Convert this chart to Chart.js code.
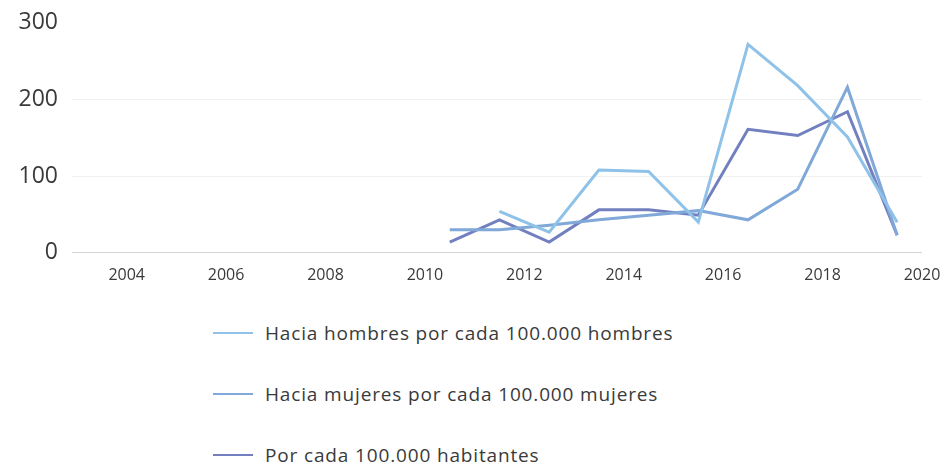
<!DOCTYPE html>
<html>
<head>
<meta charset="utf-8">
<script src="https://cdn.jsdelivr.net/npm/chart.js@4"></script>
<style>
  body { margin: 0; background: #fff; font-family: "Open Sans", sans-serif; }
  #wrap { position: relative; width: 951px; height: 466px; overflow: hidden; }
  #box { position: absolute; left: 0; top: -5px; width: 951px; height: 295px; }
  #legend { position: absolute; left: 213px; top: 320px; margin: 0; padding: 0; list-style: none; }
  #legend li { display: flex; align-items: center; height: 26px; margin-bottom: 35px; font-size: 19px; letter-spacing: 0.85px; color: #3a3a3a; white-space: nowrap; }
  #legend li span { display: inline-block; width: 40px; height: 2px; margin-right: 12px; }
</style>
</head>
<body>
<div id="wrap">
  <div id="box"><canvas id="chart"></canvas></div>
  <ul id="legend"></ul>
</div>
<script>
// points sit in the middle of each year
const yearPos = [2010.5, 2011.5, 2012.5, 2013.5, 2014.5, 2015.5, 2016.5, 2017.5, 2018.5, 2019.5];
const hombres = [null, 54, 27, 108, 106, 40, 272, 218, 151, 40];
const mujeres = [30, 30, 36, 43, 49, 55, 43, 83, 216, 23];
const habitantes = [14, 43, 14, 56, 56, 49, 161, 153, 184, 23];
const xTicks = [2004, 2006, 2008, 2010, 2012, 2014, 2016, 2018, 2020];
const yTicks = [0, 100, 200, 300];
const seriesNames = [
  'Hacia hombres por cada 100.000 hombres',
  'Hacia mujeres por cada 100.000 mujeres',
  'Por cada 100.000 habitantes'
];
const COLORS = ['#8fc2e8', '#80a8d8', '#7280c0'];

function toPoints(vals){ return yearPos.map((x, i) => ({ x, y: vals[i] })); }

const datasets = [hombres, mujeres, habitantes].map((vals, i) => ({
  label: seriesNames[i],
  data: toPoints(vals),
  borderColor: COLORS[i],
  backgroundColor: 'transparent',
  borderWidth: 3,
  pointRadius: 0,
  tension: 0,
  spanGaps: false
}));

const chart = new Chart(document.getElementById('chart'), {
  type: 'line',
  data: { datasets },
  options: {
    responsive: true,
    maintainAspectRatio: false,
    animation: false,
    layout: { padding: { top: 4, right: 29, left: 0, bottom: 0 } },
    plugins: { legend: { display: false }, tooltip: { enabled: false } },
    scales: {
      x: {
        type: 'linear',
        min: 2002.9,
        max: 2020,
        afterBuildTicks: s => { s.ticks = xTicks.map(v => ({ value: v })); },
        ticks: {
          color: '#3a3a3a',
          font: { family: 'Open Sans', size: 16 },
          maxRotation: 0, autoSkip: false, padding: 5,
          callback: v => String(v)
        },
        grid: { display: false },
        border: { display: false }
      },
      y: {
        min: 0,
        max: 300,
        afterBuildTicks: s => { s.ticks = yTicks.map(v => ({ value: v })); },
        afterFit: s => { s.width = 72; },
        ticks: {
          color: '#3a3a3a',
          font: { family: 'Open Sans', size: 23 },
          padding: 14
        },
        grid: {
          drawTicks: false,
          color: c => c.tick.value === 0 ? '#d4d4d4' : (c.tick.value === 300 ? 'rgba(0,0,0,0)' : '#f1f1f1')
        },
        border: { display: false }
      }
    }
  }
});

const legend = document.getElementById('legend');
datasets.forEach(ds => {
  const li = document.createElement('li');
  const sw = document.createElement('span');
  sw.style.background = ds.borderColor;
  li.appendChild(sw);
  li.appendChild(document.createTextNode(ds.label));
  legend.appendChild(li);
});
</script>
</body>
</html>
